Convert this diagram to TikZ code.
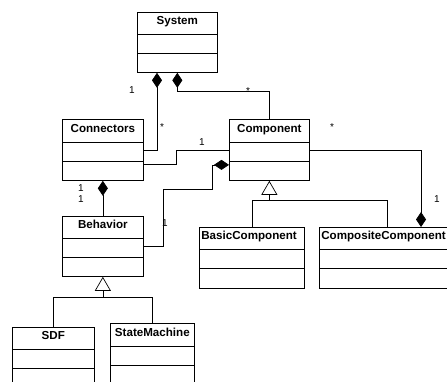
\documentclass[tikz,border=0pt]{standalone}
\usepackage{fontspec}
\setmainfont{Liberation Sans}
\usetikzlibrary{shapes.multipart,arrows.meta,calc}

\begin{document}
\begin{tikzpicture}[x=1pt,y=1pt,line width=0.7pt,
      cls/.style={draw,rectangle split,rectangle split parts=3,anchor=north west,inner sep=0pt,text width=#1,align=center,font=\fontsize{11.6}{12}\selectfont\bfseries},
      has/.style={{Diamond[length=15pt,width=10pt]}-},
      isa/.style={-{Triangle[open,length=14pt,width=16pt]}},
      mult/.style={inner sep=0pt,font=\fontsize{10}{11}\selectfont}]
  \useasboundingbox[fill=white] (0,0) rectangle (447,-381);
  \clip (0,0) rectangle (447,-381);
  % classes
  \node[cls=80pt] (sys) at (137,-12) {\rule[-9pt]{0pt}{21pt}System\nodepart{two}\rule{0pt}{19pt}\nodepart{three}\rule{0pt}{18pt}};
  \node[cls=81pt] (con) at (62,-119) {\rule[-9pt]{0pt}{22pt}Connectors\nodepart{two}\rule{0pt}{19pt}\nodepart{three}\rule{0pt}{18pt}};
  \node[cls=80pt] (comp) at (229,-119) {\rule[-9pt]{0pt}{22pt}Component\nodepart{two}\rule{0pt}{19pt}\nodepart{three}\rule{0pt}{18pt}};
  \node[cls=81pt] (beh) at (62,-216) {\rule[-9pt]{0pt}{21pt}Behavior\nodepart{two}\rule{0pt}{19pt}\nodepart{three}\rule{0pt}{18pt}};
  \node[cls=105pt,align=left] (bc) at (199,-227) {\rule[-9pt]{0pt}{21pt}\hspace{2pt}BasicComponent\nodepart{two}\rule{0pt}{19pt}\nodepart{three}\rule{0pt}{19pt}};
  \node[cls=136pt,align=left] (cc) at (319,-227) {\rule[-9pt]{0pt}{21pt}\hspace{2pt}CompositeComponent\nodepart{two}\rule{0pt}{19pt}\nodepart{three}\rule{0pt}{19pt}};
  \node[cls=82pt] (sdf) at (12,-327) {\rule[-9pt]{0pt}{21pt}SDF\nodepart{two}\rule{0pt}{19pt}\nodepart{three}\rule{0pt}{19pt}};
  \node[cls=84pt] (sm) at (110,-323) {\rule[-9pt]{0pt}{22pt}StateMachine\nodepart{two}\rule{0pt}{19pt}\nodepart{three}\rule{0pt}{19pt}};
  % compositions
  \draw[has] ($(sys.south west)+(20,0)$) |- (con.east);
  \draw[has] (sys.south) -- ++(0,-19) -| (comp.north);
  \draw[has] (con.south) -- (beh.north);
  \draw[has] ([yshift=-15pt]comp.west) -- ++(-17,0) -- ++(0,-24) -| ($(beh.east)+(20,0)$) -- (beh.east);
  \draw[has] ($(cc.north west)+(102,0)$) |- (comp.east);
  % association
  \draw ([yshift=-14pt]con.east) -- ++(33,0) |- (comp.west);
  % generalizations
  \coordinate (bj) at ($(beh.south)+(0,-21)$);
  \draw (sdf.north) |- (bj) -| (sm.north);
  \draw[isa] (bj) -- (beh.south);
  \coordinate (cj) at ($(comp.south)+(0,-20)$);
  \draw (bc.north) |- (cj) -| (cc.north);
  \draw[isa] (cj) -- (comp.south);
  % multiplicities
  \node[mult] (m1) at (132,-90) {1};
  \node[mult] (m2) at (162,-127) {*};
  \node[mult] (m3) at (248,-91) {*};
  \node[mult] (m4) at (202,-142) {1};
  \node[mult] (m5) at (81,-188) {1};
  \node[mult] (m6) at (81,-199) {1};
  \node[mult] (m7) at (165,-223) {1};
  \node[mult] (m8) at (332,-127) {*};
  \node[mult] (m9) at (437,-199) {1};
\end{tikzpicture}
\end{document}
